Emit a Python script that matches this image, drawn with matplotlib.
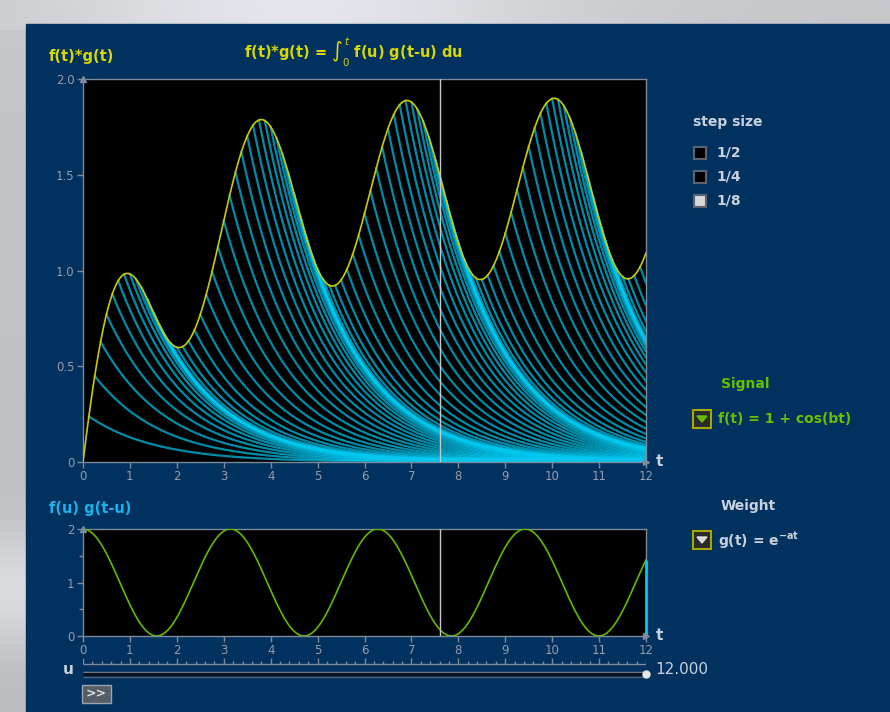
import numpy as np
import matplotlib
matplotlib.use("Agg")
import matplotlib.pyplot as plt
from matplotlib.patches import Rectangle, Polygon

# ---- chart parameters ----
A_DECAY = 0.7          # g(t) = exp(-a t)
B_FREQ = 2.0           # f(t) = 1 + cos(b t)
STEP = 1 / 8           # selected step size
T_MAX = 12.0
CURSOR_T = 7.6
SLIDER_VALUE = "12.000"
top_yticks = [0, 0.5, 1.0, 1.5, 2.0]
top_yticklabels = ["0", "0.5", "1.0", "1.5", "2.0"]
x_ticks = list(range(0, 13))
bot_yticks = [0, 1, 2]
bot_yticklabels = ["0", "1", "2"]
step_labels = ["1/2", "1/4", "1/8"]
step_checked = [False, False, True]

W, H = 890, 712
def fx(x): return x / W
def fy(y): return 1 - y / H

BG = "#01315f"
GRID = "#7f8a99"
TICKC = "#939dab"
YEL = "#d8d800"
CYAN = "#00c8f0"
GREEN = "#66b800"
LIGHT = "#c9d2dc"

fig = plt.figure(figsize=(W / 100, H / 100), dpi=100)

# backdrop (screenshot surroundings)
bg_ax = fig.add_axes([0, 0, 1, 1])
bg_ax.set_xlim(0, W); bg_ax.set_ylim(H, 0); bg_ax.axis("off")
yy, xx = np.mgrid[0:H, 0:W]
img = 0.80 + 0.12 * np.exp(-((yy - 590) / 60.0) ** 2) - 0.05 * (yy / H) \
      + 0.12 * np.exp(-((xx - 300) / 250.0) ** 2) * (yy < 30)
img = np.clip(img, 0, 1)
bg_ax.imshow(np.dstack([img * 0.97, img * 0.98, img]), extent=[0, W, H, 0], aspect="auto", zorder=0)
bg_ax.add_patch(Rectangle((26, 24), W - 26, H - 24, color=BG, zorder=1))

# ---- data ----
t = np.linspace(0, T_MAX, 1200)
def conv(tt):
    a, b = A_DECAY, B_FREQ
    e = np.exp(-a * tt)
    return (1 - e) / a + (a * np.cos(b * tt) + b * np.sin(b * tt) - a * e) / (a * a + b * b)
def f(u): return 1 + np.cos(B_FREQ * u)

# ---- top axes ----
ax = fig.add_axes([fx(83), fy(462), fx(646) - fx(83), fy(79) - fy(462)])
ax.set_facecolor("black")
ax.set_xlim(0, T_MAX); ax.set_ylim(0, 2.0)
u_k = np.arange(STEP, T_MAX + 1e-9, STEP)
for u in u_k:
    tt = np.linspace(u, T_MAX, max(int((T_MAX - u) * 60), 2))
    ax.plot(tt, conv(u) * np.exp(-A_DECAY * (tt - u)), color=CYAN, lw=1.6, alpha=0.7, zorder=2)
ax.plot(t, conv(t), color="#cccc00", lw=1.2, zorder=3)
ax.axvline(CURSOR_T, color="#c8c8c8", lw=1, zorder=4)
ax.set_yticks(top_yticks); ax.set_yticklabels(top_yticklabels)
ax.set_xticks(x_ticks); ax.set_xticklabels([str(v) for v in x_ticks])

# ---- bottom axes ----
ax2 = fig.add_axes([fx(83), fy(636), fx(646) - fx(83), fy(529) - fy(636)])
ax2.set_facecolor("black")
ax2.set_xlim(0, T_MAX); ax2.set_ylim(0, 2.0)
ax2.plot(t, f(t), color=GREEN, lw=1.2, zorder=3)
ax2.axvline(CURSOR_T, color="#c8c8c8", lw=1, zorder=4)
ax2.vlines(T_MAX, 0, f(T_MAX), color=CYAN, lw=2, zorder=5, clip_on=False)
ax2.set_yticks(bot_yticks); ax2.set_yticklabels(bot_yticklabels)
ax2.set_yticks([0.5, 1.5], minor=True)
ax2.set_xticks(x_ticks); ax2.set_xticklabels([str(v) for v in x_ticks])

for a in (ax, ax2):
    for s in a.spines.values():
        s.set_color(GRID); s.set_linewidth(1)
    a.tick_params(colors=GRID, labelcolor=TICKC, labelsize=8.5, length=4, width=1, pad=2)
    a.tick_params(which="minor", colors=GRID, length=3, width=1)
    a.plot([0], [2.0], marker="^", ms=4, color=GRID, clip_on=False, zorder=6)
    a.plot([T_MAX], [0], marker=">", ms=4, color=GRID, clip_on=False, zorder=6)

# ---- texts ----
bold = dict(fontweight="bold", fontsize=10.5)
fig.text(fx(49), fy(57), "f(t)*g(t)", color=YEL, va="center", ha="left", **bold)
fig.text(fx(244), fy(52), r"f(t)*g(t) = $\int_0^t$ f(u) g(t-u) du", color=YEL, va="center", ha="left", **bold)
fig.text(fx(49), fy(508), "f(u) g(t-u)", color="#19b4ec", va="center", ha="left", **bold)
fig.text(fx(656), fy(462), "t", color=LIGHT, va="center", ha="left", fontsize=11, fontweight="bold")
fig.text(fx(656), fy(635), "t", color=LIGHT, va="center", ha="left", fontsize=11, fontweight="bold")

# right-side controls
rp = dict(fontweight="bold", fontsize=10)
fig.text(fx(693), fy(122), "step size", color=LIGHT, va="center", ha="left", **rp)
for i, (lab, chk) in enumerate(zip(step_labels, step_checked)):
    yc = 153 + 24 * i
    bg_ax.add_patch(Rectangle((694, yc - 6), 12, 12, facecolor="#d8d8d8" if chk else "black",
                              edgecolor="#5a6472", lw=1.5, zorder=3))
    fig.text(fx(716), fy(yc), lab, color=LIGHT, va="center", ha="left", **rp)

fig.text(fx(721), fy(384), "Signal", color="#66c000", va="center", ha="left", **rp)
bg_ax.add_patch(Rectangle((693, 410), 18, 18, facecolor="#2a2a2a", edgecolor="#a8a800", lw=1.5, zorder=3))
bg_ax.add_patch(Polygon([[697, 416], [707, 416], [702, 422]], color="#66c000", zorder=4))
fig.text(fx(718), fy(419), "f(t) = 1 + cos(bt)", color="#66c000", va="center", ha="left", **rp)

fig.text(fx(721), fy(506), "Weight", color=LIGHT, va="center", ha="left", **rp)
bg_ax.add_patch(Rectangle((693, 531), 18, 18, facecolor="#2a2a2a", edgecolor="#a8a800", lw=1.5, zorder=3))
bg_ax.add_patch(Polygon([[697, 537], [707, 537], [702, 543]], color="#dddddd", zorder=4))
fig.text(fx(718), fy(541), r"g(t) = e$^{\mathbf{-at}}$", color=LIGHT, va="center", ha="left", **rp)

# ---- slider ruler ----
ax3 = fig.add_axes([fx(83), fy(690), fx(646) - fx(83), fy(650) - fy(690)])
ax3.set_xlim(0, T_MAX); ax3.set_ylim(690, 650); ax3.axis("off")
ax3.hlines(664, 0, T_MAX, color=GRID, lw=1)
ticks = np.round(np.arange(0, T_MAX + 1e-9, 0.2), 3)
for v in ticks:
    big = abs(v - round(v)) < 1e-6
    ax3.vlines(v, 664, 658 if big else 661, color=GRID, lw=1)
ax3.hlines(671.5, 0, T_MAX, color="#8894a4", lw=1)
ax3.hlines(674, 0, T_MAX, color="#0a1420", lw=2.5)
ax3.hlines(676.5, 0, T_MAX, color="#50607a", lw=1)
ax3.plot([T_MAX], [674], marker="o", ms=5, color="#e8e8e8", clip_on=False)
fig.text(fx(68), fy(670), "u", color=LIGHT, va="center", ha="center", fontsize=11, fontweight="bold")
fig.text(fx(655), fy(670), SLIDER_VALUE, color=LIGHT, va="center", ha="left", fontsize=11)

# ">>" button
bg_ax.add_patch(Rectangle((82, 685), 29, 18, facecolor="#555d66", edgecolor="#9aa2aa", lw=1, zorder=3))
fig.text(fx(96.5), fy(694), ">>", color="#e0e0e0", va="center", ha="center", fontsize=9, fontweight="bold")

fig.savefig("out.png", dpi=100, facecolor=BG)
